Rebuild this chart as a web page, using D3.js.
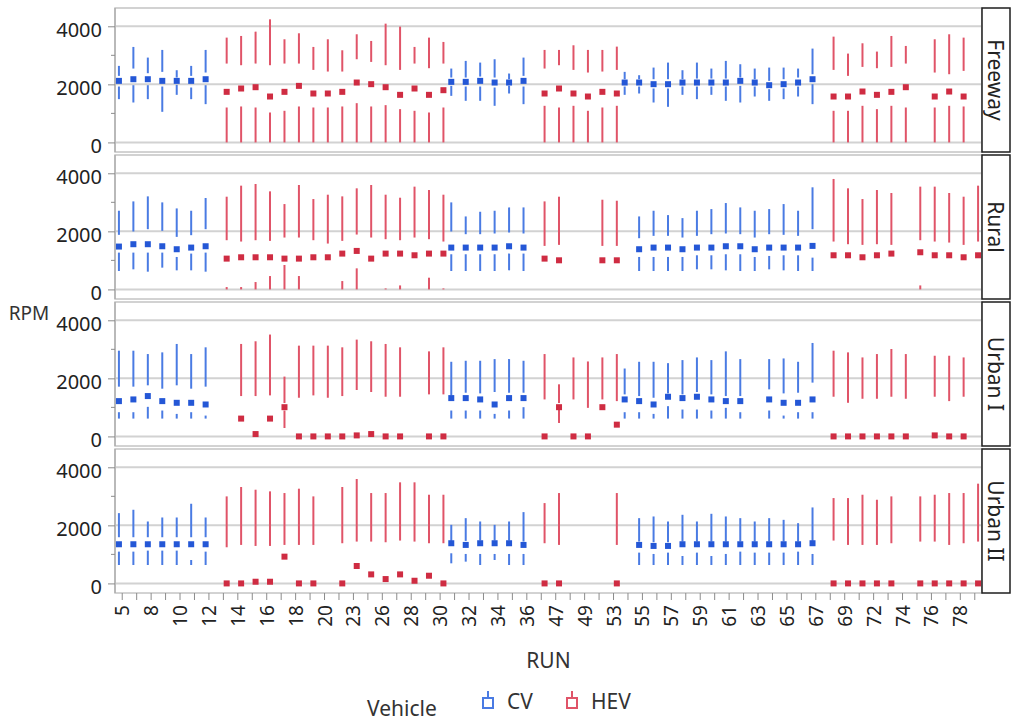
<!DOCTYPE html>
<html>
<head>
<meta charset="utf-8">
<script src="https://cdn.jsdelivr.net/npm/d3@7"></script>
<style>
  html, body { margin: 0; padding: 0; background: #fff; }
  svg { display: block; font-family: "Noto Sans", "Open Sans", sans-serif; }
</style>
</head>
<body>
<svg id="chart" width="1013" height="721"></svg>
<script>
// RUN categories along the x axis (every other one is labelled)
const runs = ["5","6","8","9","10","11","12","13","14","15","16","17","18","19","20","21","23","24",
  "26","27","28","29","30","31","32","33","34","35","36","37","47","48","49","51","53","54","55","56",
  "57","58","59","60","61","62","63","64","65","66","67","68","69","70","72","73","74","75","76","77","78","79"];
const labeledRuns = runs.filter((d, i) => i % 2 === 0);

const facets = ["Freeway", "Rural", "Urban I", "Urban II"];
const vehicles = ["CV", "HEV"];
const yTicks = [0, 2000, 4000];
const yMinorTicks = [1000, 3000];

// Rows: [run, min, q1, centre, q3, max] in RPM
const freewayCV = [
  ["5",1490,1925,2120,2292,2636],["6",1375,1971,2177,2544,3289],["8",1490,1971,2177,2384,2922],
  ["9",1054,1925,2120,2430,3186],["10",1639,1983,2120,2235,2487],["11",1490,1891,2120,2292,2636],
  ["12",1318,1971,2177,2407,3186],
  ["31",1604,1948,2086,2235,2544],["32",1433,1925,2086,2235,2808],["33",1433,1925,2120,2269,2750],
  ["34",1261,1891,2063,2235,2865],["35",1685,1948,2063,2177,2372],["36",1318,1925,2120,2292,2922],
  ["54",1639,1925,2063,2177,2430],["55",1685,1925,2063,2177,2315],["56",1375,1857,2006,2177,2578],
  ["57",1226,1857,2006,2177,2750],["58",1639,1925,2063,2177,2487],["59",1490,1925,2063,2200,2750],
  ["60",1639,1925,2063,2200,2544],["61",1433,1925,2063,2200,2808],["62",1375,1948,2120,2235,2693],
  ["63",1581,1925,2063,2177,2544],["64",1433,1834,1971,2120,2578],["65",1490,1857,2006,2177,2578],
  ["66",1581,1925,2063,2235,2544],["67",1318,2006,2177,2349,3232]
];
const freewayHEV = [
  ["13",0,1203,1742,2716,3610],["14",0,1238,1857,2659,3667],["15",0,1203,1902,2716,3816],
  ["16",0,1031,1581,2659,4240],["17",0,1089,1742,2716,3553],["18",0,1238,1948,2716,3759],
  ["19",0,1203,1685,2498,3289],["20",0,1203,1685,2441,3553],["21",0,1238,1742,2441,3174],
  ["23",0,1352,2063,2865,3725],["24",0,1238,2006,2773,3495],["26",0,1284,1902,2659,4091],
  ["27",0,1146,1639,2498,3988],["28",0,1089,1857,2716,3289],["29",0,1031,1639,2556,3610],
  ["30",0,1203,1799,2716,3461],
  ["37",0,1261,1685,2544,3186],["47",0,1203,1857,2659,3186],["48",0,1261,1685,2498,3346],
  ["49",0,1089,1581,2407,3186],["51",0,1203,1742,2441,3186],["53",0,1261,1685,2498,3300],
  ["68",0,1089,1581,2498,3644],["69",0,1089,1581,2292,3060],["70",0,1261,1753,2601,3415],
  ["72",0,1146,1639,2556,3129],["73",0,1261,1742,2601,3667],["74",0,1203,1902,2716,3323],
  ["76",0,1203,1581,2407,3553],["77",0,1261,1753,2349,3725],["78",0,1238,1581,2464,3610]
];
const ruralCV = [
  ["5",634,1268,1476,1880,2710],["6",692,1268,1557,1995,3032],["8",611,1268,1557,2075,3205],
  ["9",750,1268,1487,2018,2998],["10",657,1118,1384,1810,2790],["11",657,1234,1441,1868,2710],
  ["12",611,1268,1487,2075,3148],
  ["31",634,1211,1441,1995,2998],["32",634,1211,1441,1902,2514],["33",634,1211,1441,1902,2675],
  ["34",634,1211,1441,1926,2710],["35",657,1234,1487,1960,2825],["36",634,1234,1441,1926,2825],
  ["55",634,1118,1384,1764,2514],["56",634,1118,1441,1845,2710],["57",634,1118,1441,1845,2560],
  ["58",634,1118,1384,1787,2456],["59",692,1176,1441,1845,2710],["60",692,1176,1441,1902,2767],
  ["61",657,1211,1487,1926,2975],["62",634,1211,1487,1902,2825],["63",634,1118,1384,1787,2710],
  ["64",692,1153,1441,1902,2767],["65",657,1176,1441,1880,2940],["66",634,1176,1441,1845,2710],
  ["67",634,1095,1499,2075,3517]
];
const ruralHEV = [
  ["13",0,81,1061,1695,3194],["14",0,81,1107,1649,3574],["15",0,254,1107,1695,3632],
  ["16",0,461,1107,1672,3378],["17",0,842,1061,1787,2940],["18",0,461,1061,1787,3597],
  ["19",0,0,1107,1695,3113],["20",0,0,1107,1580,3263],["21",0,288,1234,1672,3205],
  ["23",0,726,1326,1890,3482],["24",0,0,1061,1787,3597],["26",0,35,1234,1730,3263],
  ["27",0,138,1234,1695,3159],["28",0,0,1176,1787,3540],["29",0,404,1234,1730,3424],
  ["30",0,35,1234,1649,3263],
  ["37",0,0,1061,1499,3032],["47",0,0,1003,1534,3194],["51",0,0,1003,1499,3090],
  ["53",0,0,1003,1499,3055],
  ["68",0,0,1176,1649,3805],["69",0,0,1176,1557,3482],["70",0,0,1107,1534,3113],
  ["72",0,0,1176,1557,3424],["73",0,0,1234,1534,3321],["75",0,138,1280,1695,3540],
  ["76",0,0,1176,1649,3540],["77",0,0,1176,1614,3321],["78",0,0,1107,1534,3194],
  ["79",0,0,1176,1649,3574]
];
const urban1CV = [
  ["5",614,834,1216,1714,2953],["6",614,834,1274,1714,2953],["8",614,1019,1390,1760,2837],
  ["9",614,892,1216,1644,2895],["10",614,776,1158,1760,3185],["11",614,834,1158,1644,2837],
  ["12",614,718,1100,1714,3069],
  ["31",614,892,1320,1413,2571],["32",614,892,1320,1505,2606],["33",614,892,1274,1482,2606],
  ["34",614,776,1100,1529,2663],["35",614,892,1320,1505,2663],["36",614,1007,1320,1505,2606],
  ["54",614,834,1274,1448,2339],["55",614,834,1216,1390,2571],["56",614,776,1100,1332,2571],
  ["57",614,1042,1366,1482,2524],["58",614,926,1320,1448,2629],["59",614,926,1366,1529,2721],
  ["60",614,892,1274,1448,2629],["61",614,984,1216,1390,2930],["62",614,834,1216,1390,2663],
  ["64",614,892,1274,1621,2663],["65",614,718,1158,1482,2686],["66",614,834,1158,1505,2571],
  ["67",614,834,1274,1853,3219]
];
const urban1HEV = [
  ["14",0,0,614,1390,3185],["15",0,0,81,1390,3277],["16",0,0,614,1413,3509],
  ["17",290,892,1007,1150,2061],["18",0,0,0,1332,3127],["19",0,0,0,1413,3127],
  ["20",0,0,0,1332,3127],["21",0,0,0,1390,3069],["23",0,0,35,1598,3335],
  ["24",0,0,81,1529,3277],["26",0,0,0,1367,3185],["27",0,0,0,1367,3069],
  ["29",0,0,0,1448,2930],["30",0,0,0,1448,3069],
  ["37",0,0,0,1274,2837],["47",463,926,1007,1150,1795],["48",0,0,0,1274,2721],
  ["49",0,0,0,984,2582],["51",0,0,1007,1274,2721],["53",0,0,405,1216,2837],
  ["68",0,0,0,1367,2953],["69",0,0,0,1158,2895],["70",0,0,0,1297,2721],
  ["72",0,0,0,1297,2837],["73",0,0,0,1367,3011],["74",0,0,0,1297,2837],
  ["76",0,0,35,1367,2779],["77",0,0,0,1216,2779],["78",0,0,0,1367,2721]
];
const urban2CV = [
  ["5",634,1095,1349,1591,2421],["6",634,1095,1349,1591,2537],["8",634,1130,1349,1591,2133],
  ["9",634,1130,1349,1591,2271],["10",634,1130,1349,1591,2271],["11",634,807,1349,1591,2744],
  ["12",634,1095,1349,1591,2271],
  ["31",692,1038,1384,1465,2018],["32",750,1015,1326,1464,2248],["33",634,1015,1384,1476,2133],
  ["34",807,1015,1384,1476,2018],["35",634,1015,1384,1476,2133],["36",634,1015,1326,1441,2456],
  ["55",634,1061,1326,1441,2248],["56",634,1015,1291,1418,2306],["57",634,1061,1291,1418,2133],
  ["58",634,945,1349,1441,2364],["59",634,1061,1349,1441,2133],["60",634,945,1349,1441,2398],
  ["61",634,1015,1349,1441,2306],["62",634,1095,1349,1441,2248],["63",634,1061,1349,1441,2133],
  ["64",634,1061,1349,1441,2248],["65",634,1061,1349,1441,2190],["66",634,1095,1349,1441,2075],
  ["67",634,1015,1384,1464,2617]
];
const urban2HEV = [
  ["13",0,0,0,1245,2998],["14",0,0,0,1326,3321],["15",0,0,58,1291,3228],
  ["16",0,0,58,1291,3171],["17",0,0,922,1326,3113],["18",0,0,0,1326,3263],
  ["19",0,0,0,1326,2998],["21",0,0,0,1384,3321],["23",0,0,600,1441,3597],
  ["24",0,0,311,1441,3113],["26",0,0,150,1418,3113],["27",0,0,311,1476,3482],
  ["28",0,0,92,1441,3482],["29",0,0,265,1384,3055],["30",0,0,0,1384,3055],
  ["37",0,0,0,1384,2767],["47",0,0,0,1326,3113],["53",0,0,0,1326,3113],
  ["68",0,0,0,1476,2940],["69",0,0,0,1326,2940],["70",0,0,0,1326,3055],
  ["72",0,0,0,1326,2882],["73",0,0,0,1384,2998],["75",0,0,0,1441,2998],
  ["76",0,0,0,1441,3055],["77",0,0,0,1326,3113],["78",0,0,0,1384,3113],
  ["79",0,0,0,1441,3436]
];

const seriesByFacet = [
  { CV: freewayCV, HEV: freewayHEV },
  { CV: ruralCV,   HEV: ruralHEV },
  { CV: urban1CV,  HEV: urban1HEV },
  { CV: urban2CV,  HEV: urban2HEV }
];

const lineColor = { CV: "#4a7be3", HEV: "#e05468" };
const markColor = { CV: "#2457d6", HEV: "#cf2c42" };

// ---- layout ----
const svg = d3.select("#chart");
const plotLeft = 115, plotRight = 982, stripRight = 1010;
const panelTop0 = 8, panelStep = 147, panelH = 144;
const tickFont = 20, xTickFont = 19, titleFont = 21, stripFont = 21;

const x = d3.scaleBand().domain(runs).range([plotLeft, plotRight]).padding(0);
const dodge = d3.scalePoint().domain(vehicles).range([-3.3, 3.3]);
const y = d3.scaleLinear().domain([-330, 4630]).range([panelH, 0]);

facets.forEach((facet, fi) => {
  const top = panelTop0 + fi * panelStep;
  const g = svg.append("g").attr("transform", `translate(0,${top})`);

  // panel frame
  g.append("rect")
    .attr("x", plotLeft).attr("y", 0)
    .attr("width", plotRight - plotLeft).attr("height", panelH)
    .attr("fill", "#fff").attr("stroke", "#c4c4c4").attr("stroke-width", 1.5);

  // grid lines
  g.selectAll("line.grid").data(yTicks).join("line")
    .attr("class", "grid")
    .attr("x1", plotLeft).attr("x2", plotRight)
    .attr("y1", d => y(d)).attr("y2", d => y(d))
    .attr("stroke", "#d2d2d2").attr("stroke-width", 2);

  // y axis
  const yAxis = g.append("g").attr("transform", `translate(${plotLeft},0)`)
    .call(d3.axisLeft(y).tickValues(yTicks).tickSize(7).tickPadding(6).tickFormat(d3.format("d")));
  yAxis.select(".domain").attr("stroke", "#a0a0a0").attr("d", `M0,0V${panelH}`);
  yAxis.selectAll(".tick line").attr("stroke", "#8c8c8c");
  yAxis.selectAll(".tick text")
    .attr("font-size", tickFont).attr("fill", "#222")
    .attr("font-family", "'Noto Sans', sans-serif").attr("dy", "0.5em");
  g.selectAll("line.minor").data(yMinorTicks).join("line")
    .attr("class", "minor")
    .attr("x1", plotLeft - 4).attr("x2", plotLeft)
    .attr("y1", d => y(d)).attr("y2", d => y(d))
    .attr("stroke", "#8c8c8c");

  // range marks per vehicle
  vehicles.forEach(v => {
    const rows = seriesByFacet[fi][v];
    const cx = d => x(d[0]) + x.bandwidth() / 2 + dodge(v);
    const mg = g.append("g");
    mg.selectAll("line.lo").data(rows.filter(d => d[2] > d[1])).join("line")
      .attr("x1", cx).attr("x2", cx)
      .attr("y1", d => y(d[1])).attr("y2", d => y(d[2]))
      .attr("stroke", lineColor[v]).attr("stroke-width", 2);
    mg.selectAll("line.hi").data(rows.filter(d => d[5] > d[4])).join("line")
      .attr("x1", cx).attr("x2", cx)
      .attr("y1", d => y(d[4])).attr("y2", d => y(d[5]))
      .attr("stroke", lineColor[v]).attr("stroke-width", 2);
    mg.selectAll("rect").data(rows).join("rect")
      .attr("x", d => cx(d) - 3).attr("y", d => y(d[3]) - 3)
      .attr("width", 6).attr("height", 6)
      .attr("fill", markColor[v]);
  });

  // facet strip
  g.append("rect")
    .attr("x", plotRight).attr("y", 0)
    .attr("width", stripRight - plotRight).attr("height", panelH)
    .attr("fill", "#fff").attr("stroke", "#1e1e1e").attr("stroke-width", 1.5);
  g.append("text")
    .attr("transform", `translate(${(plotRight + stripRight) / 2},${panelH / 2}) rotate(90)`)
    .attr("text-anchor", "middle").attr("dominant-baseline", "central")
    .attr("font-size", stripFont).attr("fill", "#222")
    .text(facet);
});

// x axis under the last panel
const axisY = panelTop0 + 3 * panelStep + panelH;
const xAxis = svg.append("g").attr("transform", `translate(0,${axisY})`)
  .call(d3.axisBottom(x).tickSize(7).tickPadding(4)
    .tickFormat(d => labeledRuns.includes(d) ? d : ""));
xAxis.select(".domain").remove();
xAxis.selectAll(".tick line").attr("stroke", "#8c8c8c");
xAxis.selectAll(".tick text")
  .attr("font-size", xTickFont).attr("fill", "#222")
  .attr("font-family", "'Noto Sans', sans-serif")
  .attr("text-anchor", "end").attr("dominant-baseline", "central")
  .attr("transform", "translate(0,12) rotate(-90)")
  .attr("x", 0).attr("y", 0).attr("dy", 0);

// axis titles
svg.append("text")
  .attr("x", (plotLeft + plotRight) / 2).attr("y", 668)
  .attr("text-anchor", "middle").attr("font-size", titleFont).attr("fill", "#333")
  .text("RUN");
svg.append("text")
  .attr("x", 29).attr("y", 320)
  .attr("text-anchor", "middle").attr("font-size", 19).attr("fill", "#333")
  .text("RPM");

// legend
const legend = svg.append("g").attr("transform", "translate(0,703)");
legend.append("text").attr("x", 367).attr("y", 13)
  .attr("font-size", titleFont).attr("fill", "#333").text("Vehicle");
const legendItems = [{ v: "CV", x: 488 }, { v: "HEV", x: 572 }];
legendItems.forEach(it => {
  const lg = legend.append("g").attr("transform", `translate(${it.x},0)`);
  lg.append("line").attr("x1", 0).attr("x2", 0).attr("y1", -12).attr("y2", -5)
    .attr("stroke", lineColor[it.v]).attr("stroke-width", 2);
  lg.append("rect").attr("x", -5).attr("y", -5).attr("width", 10).attr("height", 10)
    .attr("fill", "none").attr("stroke", lineColor[it.v]).attr("stroke-width", 2);
  lg.append("text").attr("x", 19).attr("y", 6)
    .attr("font-size", titleFont).attr("fill", "#333").text(it.v);
});
</script>
</body>
</html>
